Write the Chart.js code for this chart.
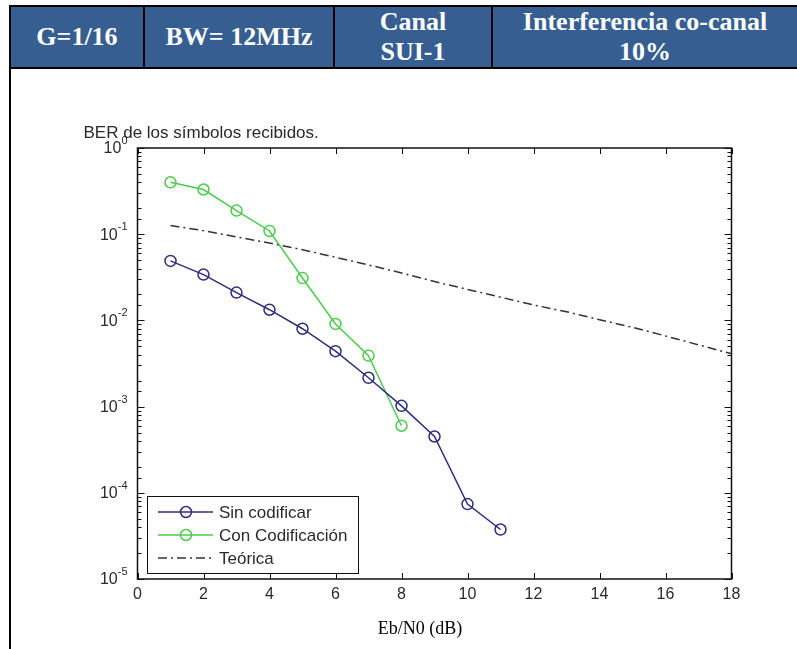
<!DOCTYPE html>
<html>
<head>
<meta charset="utf-8">
<script src="https://cdn.jsdelivr.net/npm/chart.js@4.4.0/dist/chart.umd.min.js"></script>
<style>
  html, body { margin: 0; padding: 0; background: #fff; width: 797px; height: 649px; overflow: hidden; }
  #hdr { position: absolute; left: 9px; top: 5px; width: 786px; height: 60px; border: 2px solid #000; border-right: none;
         display: flex; background: #365e91; }
  .cell { height: 60px; color: #fff; font: bold 26px/30px "Liberation Serif", "Times New Roman", serif;
          display: flex; align-items: center; justify-content: center; text-align: center;
          border-left: 2px solid #000; box-sizing: border-box; }
  .cell:first-child { border-left: none; }
  #vline { position: absolute; left: 9px; top: 67px; width: 2px; height: 582px; background: #000; }
  #wrap { position: absolute; left: 0; top: 70px; width: 797px; height: 579px; }
  #xlabel { position: absolute; left: 320px; width: 200px; top: 617px; text-align: center;
            font: 18px/22px "Liberation Serif", "Times New Roman", serif; color: #000; }
</style>
</head>
<body>
<div id="hdr">
  <div class="cell" style="width:132px">G=1/16</div>
  <div class="cell" style="width:190px">BW= 12MHz</div>
  <div class="cell" style="width:158px">Canal<br>SUI-1</div>
  <div class="cell" style="flex:1">Interferencia co-canal<br>10%</div>
</div>
<div id="vline"></div>
<div id="wrap"><canvas id="c" width="797" height="579"></canvas></div>
<div id="xlabel">Eb/N0 (dB)</div>
<script>
// Eb/N0 in dB for each curve
const ebn0Sin = [1, 2, 3, 4, 5, 6, 7, 8, 9, 10, 11];
const ebn0Con = [1, 2, 3, 4, 5, 6, 7, 8];
const ebn0Teo = [1, 2, 3, 4, 5, 6, 7, 8, 9, 10, 11, 12, 13, 14, 15, 16, 17, 18];

// BER values
const sinCodificar = [0.049, 0.034, 0.021, 0.0133, 0.0080, 0.0044, 0.00216, 0.00102, 0.00045, 0.000074, 0.0000375];
const conCodificacion = [0.40, 0.33, 0.188, 0.109, 0.031, 0.0091, 0.0039, 0.0006];
const teorica = [0.126, 0.110, 0.093, 0.079, 0.066, 0.054, 0.044, 0.0355, 0.0282, 0.0229,
                 0.0186, 0.0151, 0.0126, 0.0102, 0.0083, 0.0066, 0.0052, 0.0041];

const seriesNames = ['Sin codificar', 'Con Codificación', 'Teórica'];
const chartTitle = 'BER de los símbolos recibidos.';

const xTickValues = [0, 2, 4, 6, 8, 10, 12, 14, 16, 18];
const xTickLabels = ['0', '2', '4', '6', '8', '10', '12', '14', '16', '18'];
const yTickValues = [1, 0.1, 0.01, 0.001, 0.0001, 0.00001];
const yTickExponents = ['0', '-1', '-2', '-3', '-4', '-5'];

const TEXT = '#2a2a2a';
const FONT = '"Liberation Sans", Arial, sans-serif';

function pts(xs, ys) {
    return xs.map((x, i) => ({ x: x, y: ys[i] }));
}

function isDecade(v) {
    let e = Math.log10(v);
    return Math.abs(e - Math.round(e)) < 1e-6;
}

// MATLAB style box, inward ticks, y labels, title and legend
const matlabPlugin = {
    id: 'matlab',
    afterDraw(chart) {
        const ctx = chart.ctx;
        const a = chart.chartArea;
        const xs = chart.scales.x;
        const ys = chart.scales.y;

        ctx.save();
        ctx.strokeStyle = '#111';
        ctx.lineWidth = 1.5;
        ctx.strokeRect(a.left, a.top, a.right - a.left, a.bottom - a.top);

        ctx.lineWidth = 1;
        ctx.beginPath();
        for (let t of xs.ticks) {
            let px = Math.round(xs.getPixelForValue(t.value)) + 0.5;
            ctx.moveTo(px, a.top); ctx.lineTo(px, a.top + 6);
            ctx.moveTo(px, a.bottom); ctx.lineTo(px, a.bottom - 6);
        }
        for (let t of ys.ticks) {
            let py = Math.round(ys.getPixelForValue(t.value)) + 0.5;
            let len = isDecade(t.value) ? 7 : 4;
            ctx.moveTo(a.left, py); ctx.lineTo(a.left + len, py);
            ctx.moveTo(a.right, py); ctx.lineTo(a.right - len, py);
        }
        ctx.stroke();

        // y labels: "10" with raised exponent
        ctx.fillStyle = TEXT;
        ctx.textBaseline = 'middle';
        for (let i = 0; i < yTickValues.length; i++) {
            let py = ys.getPixelForValue(yTickValues[i]);
            ctx.font = '11px ' + FONT;
            ctx.textAlign = 'right';
            let expRight = a.left - 10;
            let expW = ctx.measureText(yTickExponents[i]).width;
            ctx.fillText(yTickExponents[i], expRight, py - 7);
            ctx.font = '16px ' + FONT;
            ctx.fillText('10', expRight - expW, py + 1);
        }

        // title
        ctx.font = '17px ' + FONT;
        ctx.textAlign = 'left';
        ctx.textBaseline = 'alphabetic';
        ctx.fillText(chartTitle, a.left - 54, a.top - 10);

        // legend box, lower left inside the axes
        ctx.font = '17px ' + FONT;
        let maxW = 0;
        chart.data.datasets.forEach(ds => { maxW = Math.max(maxW, ctx.measureText(ds.label).width); });
        let bx = a.left + 9.5;
        let bh = 77;
        let by = a.bottom - 6 - bh;
        let bw = 72 + maxW + 10;
        ctx.fillStyle = '#fff';
        ctx.fillRect(bx, by, bw, bh);
        ctx.strokeStyle = '#111';
        ctx.lineWidth = 1;
        ctx.strokeRect(Math.round(bx) + 0.5, Math.round(by) + 0.5, Math.round(bw), bh);

        chart.data.datasets.forEach((ds, i) => {
            let ry = by + 16 + i * 23;
            ctx.strokeStyle = ds.borderColor;
            ctx.lineWidth = ds.borderWidth;
            ctx.setLineDash(ds.borderDash || []);
            ctx.beginPath();
            ctx.moveTo(bx + 11, ry); ctx.lineTo(bx + 66, ry);
            ctx.stroke();
            ctx.setLineDash([]);
            if (ds.pointRadius > 0) {
                ctx.lineWidth = ds.pointBorderWidth;
                ctx.beginPath();
                ctx.arc(bx + 39, ry, ds.pointRadius, 0, Math.PI * 2);
                ctx.stroke();
            }
            ctx.fillStyle = TEXT;
            ctx.textBaseline = 'middle';
            ctx.fillText(ds.label, bx + 72, ry + 1);
        });
        ctx.restore();
    }
};

const BLUE = '#2e2e7c';
const GREEN = '#4ccb4c';
const DARK = '#30304a';

new Chart(document.getElementById('c'), {
    type: 'line',
    data: {
        datasets: [
            { label: seriesNames[0], data: pts(ebn0Sin, sinCodificar), borderColor: BLUE, borderWidth: 1.5,
              pointRadius: 5.5, pointBorderWidth: 1.5, pointBorderColor: BLUE,
              pointBackgroundColor: 'rgba(0,0,0,0)', tension: 0 },
            { label: seriesNames[1], data: pts(ebn0Con, conCodificacion), borderColor: GREEN, borderWidth: 1.5,
              pointRadius: 5.5, pointBorderWidth: 1.5, pointBorderColor: GREEN,
              pointBackgroundColor: 'rgba(0,0,0,0)', tension: 0 },
            { label: seriesNames[2], data: pts(ebn0Teo, teorica), borderColor: DARK, borderWidth: 1.5,
              borderDash: [9, 4, 2, 4], pointRadius: 0, tension: 0 }
        ]
    },
    options: {
        responsive: false,
        devicePixelRatio: 1,
        animation: false,
        events: [],
        layout: { padding: { left: 0, right: 65.5, top: 78, bottom: 30 } },
        plugins: { legend: { display: false }, title: { display: false }, tooltip: { enabled: false } },
        scales: {
            x: {
                type: 'linear', min: 0, max: 18,
                afterBuildTicks: s => { s.ticks = xTickValues.map(v => ({ value: v })); },
                afterFit: s => { s.height = 40; },
                grid: { display: false, drawTicks: false },
                border: { display: false },
                ticks: { padding: 6, color: TEXT, font: { size: 16, family: FONT },
                         autoSkip: false, maxRotation: 0,
                         callback: (v, i) => xTickLabels[i] }
            },
            y: {
                type: 'logarithmic', min: 1e-5, max: 1,
                afterFit: s => { s.width = 137.5; },
                grid: { display: false, drawTicks: false },
                border: { display: false },
                ticks: { display: false, autoSkip: false }
            }
        }
    },
    plugins: [matlabPlugin]
});
</script>
</body>
</html>
